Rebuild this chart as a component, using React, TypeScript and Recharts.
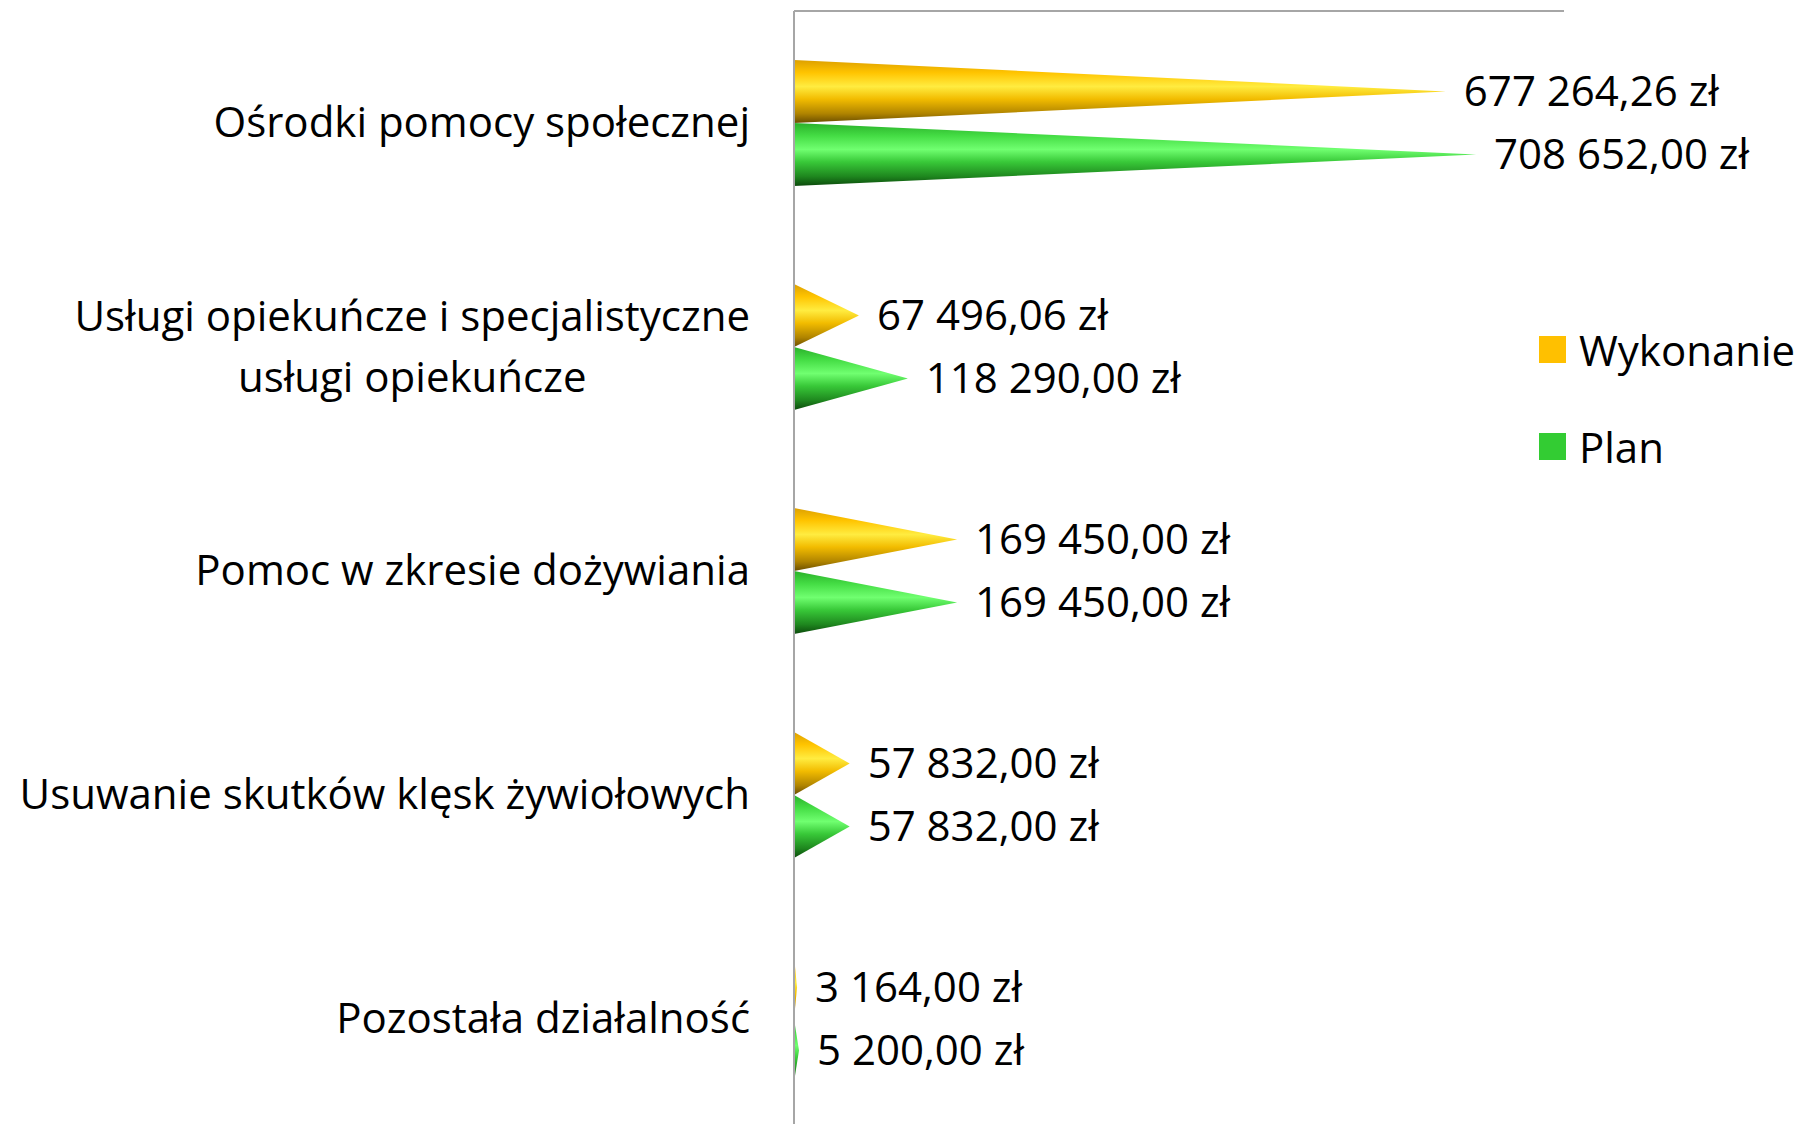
import React from "react"
import { Bar, BarChart, LabelList, Legend, XAxis, YAxis } from "recharts"

const categories = [
  "Ośrodki pomocy społecznej",
  "Usługi opiekuńcze i specjalistyczne\nusługi opiekuńcze",
  "Pomoc w zkresie dożywiania",
  "Usuwanie skutków klęsk żywiołowych",
  "Pozostała działalność",
]
const wykonanie = [677264.26, 67496.06, 169450.0, 57832.0, 3164.0]
const plan = [708652.0, 118290.0, 169450.0, 57832.0, 5200.0]
const seriesNames = ["Wykonanie", "Plan"]
const seriesColors = ["#FFC000", "#33CC33"]

const data = categories.map((name, i) => ({ name, wykonanie: wykonanie[i], plan: plan[i] }))

const FONT = "Open Sans"
const SIZE = 42

const fmt = (v: number) => {
  const [int, dec] = v.toFixed(2).split(".")
  return int.replace(/\B(?=(\d{3})+(?!\d))/g, " ") + "," + dec + " zł"
}

let ctx: CanvasRenderingContext2D | null = null
const measure = (t: string) => {
  if (!ctx) ctx = document.createElement("canvas").getContext("2d")
  if (!ctx) return t.length * SIZE * 0.5
  ctx.font = `${SIZE}px "${FONT}"`
  return ctx.measureText(t).width
}

function CategoryTick(props: any) {
  const { x, y, payload } = props
  const lines = String(payload.value).split("\n")
  const right = x - 44
  const w = Math.max(...lines.map(measure))
  const cx = right - w / 2
  const lh = 61
  const y0 = y - 3 - ((lines.length - 1) * lh) / 2
  return (
    <text fontFamily={FONT} fontSize={SIZE} fill="#000" textAnchor="middle" dominantBaseline="central">
      {lines.map((l, i) => (
        <tspan key={i} x={cx} y={y0 + i * lh}>
          {l}
        </tspan>
      ))}
    </text>
  )
}

function Cone(props: any) {
  const { x, y, width, height, fill } = props
  if (!width || width <= 0) return null
  return <path d={`M${x},${y} L${x + width},${y + height / 2} L${x},${y + height} Z`} fill={fill} />
}

function LegendBox() {
  return (
    <div style={{ fontFamily: FONT, fontSize: SIZE }}>
      {seriesNames.map((n, i) => (
        <div key={n} style={{ display: "flex", alignItems: "center", height: 27, marginBottom: 70, whiteSpace: "nowrap" }}>
          <span style={{ width: 27, height: 27, background: seriesColors[i], marginRight: 13, flex: "none" }} />
          <span>{n}</span>
        </div>
      ))}
    </div>
  )
}

export default function App() {
  return (
    <div style={{ position: "relative", width: 1795, height: 1116, overflow: "hidden" }}>
      <BarChart
        width={1795}
        height={1140}
        data={data}
        layout="vertical"
        barSize={63}
        barGap={0}
        margin={{ top: 2, right: 239, bottom: 17, left: 0 }}
      >
        <defs>
          <linearGradient id="coneY" x1="0" y1="0" x2="0" y2="1">
            <stop offset="0%" stopColor="#DDA000" />
            <stop offset="20%" stopColor="#FFC400" />
            <stop offset="42%" stopColor="#FFEC40" />
            <stop offset="62%" stopColor="#F2BC00" />
            <stop offset="85%" stopColor="#B08400" />
            <stop offset="100%" stopColor="#6A4E00" />
          </linearGradient>
          <linearGradient id="coneG" x1="0" y1="0" x2="0" y2="1">
            <stop offset="0%" stopColor="#2AB02A" />
            <stop offset="20%" stopColor="#44DC44" />
            <stop offset="42%" stopColor="#70FF70" />
            <stop offset="62%" stopColor="#38C838" />
            <stop offset="85%" stopColor="#1E861E" />
            <stop offset="100%" stopColor="#0C4A0C" />
          </linearGradient>
        </defs>
        <XAxis
          type="number"
          orientation="top"
          domain={[0, 800000]}
          height={1}
          tick={false}
          tickLine={false}
          axisLine={{ stroke: "#A6A6A6", strokeWidth: 2 }}
        />
        <YAxis
          type="category"
          dataKey="name"
          width={786}
          tickSize={0}
          tickMargin={0}
          tickLine={false}
          axisLine={{ stroke: "#A6A6A6", strokeWidth: 2 }}
          tick={<CategoryTick />}
          interval={0}
        />
        <Legend
          layout="vertical"
          align="center"
          verticalAlign="middle"
          wrapperStyle={{ left: 1531, top: 328, width: 260 }}
          content={<LegendBox />}
        />
        <Bar dataKey="wykonanie" name="Wykonanie" fill="url(#coneY)" shape={<Cone />} isAnimationActive={false}>
          <LabelList
            dataKey="wykonanie"
            position="right"
            offset={18}
            formatter={(v: any) => fmt(Number(v))}
            style={{ fontFamily: FONT, fontSize: SIZE, fill: "#000" }}
          />
        </Bar>
        <Bar dataKey="plan" name="Plan" fill="url(#coneG)" shape={<Cone />} isAnimationActive={false}>
          <LabelList
            dataKey="plan"
            position="right"
            offset={18}
            formatter={(v: any) => fmt(Number(v))}
            style={{ fontFamily: FONT, fontSize: SIZE, fill: "#000" }}
          />
        </Bar>
      </BarChart>
    </div>
  )
}
